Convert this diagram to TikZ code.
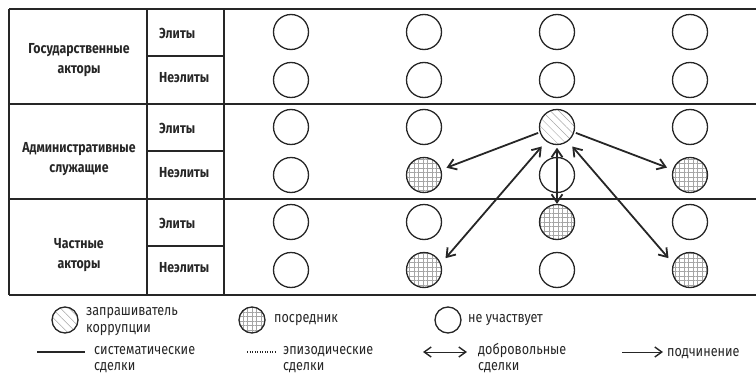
\documentclass[tikz,border=0pt]{standalone}
\usepackage{fontspec}
\setmainfont{Fira Sans}
\newfontfamily\tabfont{Fira Sans}[FakeStretch=0.85]
\newfontfamily\legfont{Fira Sans}[FakeStretch=0.84]
\usetikzlibrary{arrows.meta,patterns.meta}
\begin{document}
\begin{tikzpicture}[x=1pt,y=-1pt,
  frame/.style={line width=1.4pt, draw=black!85},
  cell/.style={circle, draw=black!85, line width=1.3pt, minimum size=35pt, inner sep=0pt},
  req/.style={cell, pattern={Lines[angle=-45,distance=6pt,line width=0.5pt]}, pattern color=black!35},
  mid/.style={cell, pattern={Hatch[angle=0,distance=4.5pt,line width=0.3pt]}, pattern color=black!35},
  grouplbl/.style={font=\tabfont\bfseries\fontsize{14.5}{20}\selectfont, align=center, text=black!85, anchor=base, inner sep=0pt},
  sublbl/.style={font=\tabfont\bfseries\fontsize{14.5}{15}\selectfont, anchor=base west, text=black!85, inner sep=0pt},
  legtxt/.style={font=\legfont\fontsize{15}{17}\selectfont, anchor=base west, align=left, text=black!85, inner sep=0pt},
  legtxtb/.style={legtxt, font=\legfont\fontsize{15}{15.5}\selectfont},
  sys/.style={line width=1.8pt, draw=black!85},
  hd/.tip={Straight Barb[length=8pt,width=11pt]},
  thin/.style={line width=0.8pt, draw=black!85},
  thd/.tip={Straight Barb[length=7pt,width=10pt,line width=1.4pt]},
]
\useasboundingbox (0,0) rectangle (756,375);
% table frame
\draw[frame] (9,9) -- (756,9);
\draw[frame] (9,104) -- (756,104);
\draw[frame] (9,199) -- (756,199);
\draw[frame] (9,295) -- (756,295);
\draw[frame] (9,9) -- (9,295);
\draw[frame] (147,9) -- (147,295);
\draw[frame] (224,9) -- (224,295);
\draw[frame] (147,56) -- (224,56);
\draw[frame] (147,151) -- (224,151);
\draw[frame] (147,246) -- (224,246);
% group labels (anchor = baseline of last line)
\node[grouplbl] (g1) at (79,73) {Государственные\\акторы};
\node[grouplbl] (g2) at (79,172) {Административные\\служащие};
\node[grouplbl] (g3) at (79,268) {Частные\\акторы};
% sub labels
\node[sublbl] (s1) at (159,38) {Элиты};
\node[sublbl] (s2) at (159,82) {Неэлиты};
\node[sublbl] (s3) at (159,133) {Элиты};
\node[sublbl] (s4) at (159,177) {Неэлиты};
\node[sublbl] (s5) at (159,228) {Элиты};
\node[sublbl] (s6) at (159,272) {Неэлиты};
% circles
\node[cell] (c11) at (291,32) {};
\node[cell] (c12) at (424,32) {};
\node[cell] (c13) at (557,32) {};
\node[cell] (c14) at (690,32) {};
\node[cell] (c21) at (291,80) {};
\node[cell] (c22) at (424,80) {};
\node[cell] (c23) at (557,80) {};
\node[cell] (c24) at (690,80) {};
\node[cell] (c31) at (291,127) {};
\node[cell] (c32) at (424,127) {};
\node[req]  (c33) at (557,127) {};
\node[cell] (c34) at (690,127) {};
\node[cell] (c41) at (291,175) {};
\node[mid]  (c42) at (424,175) {};
\node[cell] (c43) at (557,175) {};
\node[mid]  (c44) at (690,175) {};
\node[cell] (c51) at (291,222) {};
\node[cell] (c52) at (424,222) {};
\node[mid]  (c53) at (557,222) {};
\node[cell] (c54) at (690,222) {};
\node[cell] (c61) at (291,270) {};
\node[mid]  (c62) at (424,270) {};
\node[cell] (c63) at (557,270) {};
\node[mid]  (c64) at (690,270) {};
% arrows
\draw[sys, -{hd}, shorten <=2pt, shorten >=6pt] (c33.197) -- (c42.17);
\draw[sys, -{hd}, shorten <=2pt, shorten >=6pt] (c33.343) -- (c44.163);
\draw[sys, {hd}-{hd}, shorten <=3pt] (c33.south) -- (c53.north);
\draw[sys, {hd}-{hd}, shorten <=7pt, shorten >=7pt] (c33.233) -- (c62.21);
\draw[sys, {hd}-{hd}, shorten <=7pt, shorten >=7pt] (c33.307) -- (c64.159);
% legend
\node[req, minimum size=26pt] (l1) at (65,320) {};
\node[legtxt] (l1t) at (86,332) {запрашиватель\\коррупции};
\node[mid, minimum size=26pt] (l2) at (252,320) {};
\node[legtxt] (l2t) at (274,322) {посредник};
\node[cell, minimum size=26pt] (l3) at (448,320) {};
\node[legtxt] (l3t) at (468,322) {не участвует};
\coordinate (a1) at (37,352);
\coordinate (a2) at (85,352);
\draw[line width=2.4pt, draw=black!85] (a1) -- (a2);
\node[legtxtb] (a3) at (94,370) {систематические\\сделки};
\coordinate (b1) at (247,352);
\coordinate (b2) at (277,352);
\draw[line width=1.3pt, draw=black!85, dash pattern=on 1pt off 1.5pt] (b1) -- (b2);
\node[legtxtb] (b3) at (283,370) {эпизодические\\сделки};
\coordinate (d1) at (423,352);
\coordinate (d2) at (467,352);
\draw[thin, {thd}-{thd}] (d1) -- (d2);
\node[legtxtb] (d3) at (478,370) {добровольные\\сделки};
\coordinate (e1) at (622,352);
\coordinate (e2) at (663,352);
\draw[thin, -{thd}] (e1) -- (e2);
\node[legtxt] (e3) at (667,356) {подчинение};
\end{tikzpicture}
\end{document}
